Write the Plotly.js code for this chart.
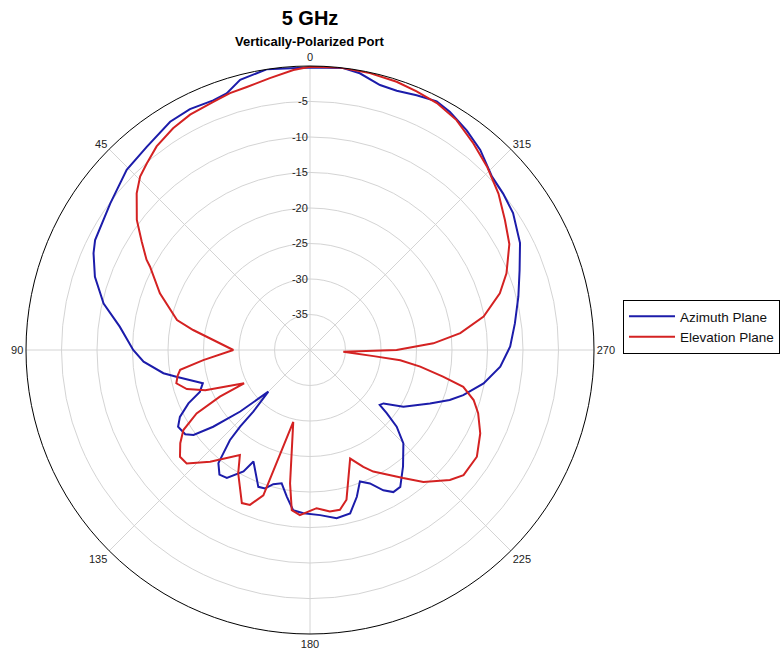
<!DOCTYPE html>
<html>
<head>
<meta charset="utf-8">
<script src="https://cdn.plot.ly/plotly-3.0.1.min.js"></script>
<style>html,body{margin:0;padding:0;background:#fff;}#chart{width:780px;height:652px;}</style>
</head>
<body>
<div id="chart"></div>
<script>
// Azimuth plane (blue): angle in degrees (CCW from top), gain in dB
const azimuthTheta = [0, 8.8, 14.5, 18, 21.2, 26.5, 31.5, 38.8, 45.5, 53.7, 62.9, 65.9, 71.2, 77.3, 83, 90, 94, 99, 101.3, 107.2, 110.8, 113.7, 117.2, 120.2, 124, 126.1, 128.4, 131.4, 135, 137.4, 137.6, 138.4, 140, 141, 144, 147, 151.3, 153.1, 159.3, 162, 164.7, 168, 171, 174, 177.7, 183.5, 189, 193.8, 197.7, 200.8, 204.2, 207.6, 210.4, 213.4, 218.6, 225, 228.5, 230.5, 231.8, 234, 238.7, 246, 250.3, 253.6, 259.1, 265, 271, 277.4, 284.4, 290.9, 297, 304, 309, 313.6, 319.6, 324.5, 329.6, 333, 337.3, 341.5, 345.2, 349.8, 353.3, 360];
const azimuthGain = [-0.2, 0, -0.7, -2.0, -2.3, -2.1, -2.3, -3.3, -3.8, -5.1, -6.0, -6.6, -8.0, -10.2, -13.0, -15.1, -16.5, -19.1, -20.8, -24.2, -23.4, -21.3, -19.4, -18.5, -18.8, -19.7, -22.6, -26.9, -31.7, -28.2, -25.4, -23.0, -21.0, -19.5, -18.3, -18.5, -20.5, -22.4, -19.4, -19.5, -20.4, -20.8, -19.1, -17.3, -17.0, -16.7, -16.0, -16.3, -18.3, -20.2, -19.4, -17.7, -16.8, -16.9, -19.0, -21.4, -23.7, -26.0, -27.5, -27.2, -24.6, -21.5, -19.1, -17.5, -15.1, -13.1, -11.8, -10.9, -9.7, -8.4, -6.8, -5.5, -5.0, -4.6, -3.0, -2.0, -1.1, -0.7, -1.1, -1.5, -1.4, -0.4, 0, -0.2];

// Elevation plane (red)
const elevationTheta = [0, 3.4, 8.4, 13.5, 17.3, 21.3, 27, 31.7, 37, 41.2, 44.4, 47.9, 53.1, 57.2, 61.1, 62.5, 69.3, 77.3, 80.3, 84.1, 90, 95.4, 98.7, 101, 104, 107.6, 111, 116.8, 117.4, 119.2, 122.3, 125.7, 129.4, 132.6, 138.2, 146.3, 149.8, 156, 158.8, 162.2, 166.9, 171.5, 173.5, 176.5, 182.4, 187, 190.6, 193.7, 200.3, 204.5, 207.5, 216, 220.7, 227.1, 230.8, 237.4, 243.9, 249.4, 253, 256.5, 258.7, 261.4, 263.5, 264.5, 267, 270, 273.1, 276.4, 280.9, 286.6, 291.3, 298, 303.7, 309.7, 316, 321.7, 327.5, 332.8, 337.6, 342.1, 347.8, 353.9, 360];
const elevationGain = [-0.1, -0.5, -1.3, -1.9, -2.1, -2.5, -2.8, -3.3, -4.1, -5.1, -5.8, -7.1, -9.5, -11.8, -13.7, -14.6, -17.4, -20.8, -23.3, -26.3, -29.2, -24.9, -21.5, -21.0, -20.6, -21.8, -24.2, -29.6, -25.7, -21.7, -18.9, -17.5, -16.3, -16.4, -18.9, -22.2, -19.9, -16.4, -16.6, -18.5, -29.6, -21.0, -17.3, -16.7, -17.7, -17.1, -17.1, -18.3, -23.7, -21.9, -20.7, -17.7, -15.5, -13.1, -12.1, -12.1, -13.3, -14.7, -15.9, -17.8, -20.9, -24.3, -27.2, -31.0, -35.3, -27.8, -22.6, -18.7, -15.1, -12.1, -10.3, -8.2, -7.0, -5.5, -4.1, -2.9, -1.6, -0.9, -0.6, -0.3, -0.1, 0.0, -0.1];

const angleTicks = [0, 45, 90, 135, 180, 225, 270, 315];
const angleLabels = ['0', '45', '90', '135', '180', '225', '270', '315'];
const radialTicks = [-35, -30, -25, -20, -15, -10, -5];
const radialLabels = ['-35', '-30', '-25', '-20', '-15', '-10', '-5'];
const seriesNames = ['Azimuth Plane', 'Elevation Plane'];

const font = 'Arial, "Liberation Sans", sans-serif';

const traces = [
  {type: 'scatterpolar', mode: 'lines', name: seriesNames[0], theta: azimuthTheta, r: azimuthGain,
   line: {color: '#1c1caa', width: 2}},
  {type: 'scatterpolar', mode: 'lines', name: seriesNames[1], theta: elevationTheta, r: elevationGain,
   line: {color: '#d42222', width: 2}}
];

const layout = {
  width: 780, height: 652,
  margin: {l: 0, r: 0, t: 0, b: 0},
  paper_bgcolor: '#fff',
  font: {family: font, size: 11, color: '#333'},
  title: {text: '<b>5 GHz</b>', font: {family: font, size: 20, color: '#000'},
          x: 310/780, xanchor: 'center', xref: 'paper', y: 1 - 18/652, yanchor: 'middle', yref: 'container'},
  annotations: [{text: '<b>Vertically-Polarized Port</b>', xref: 'paper', yref: 'paper',
                 x: 310/780, y: 1 - 42/652, xanchor: 'center', yanchor: 'middle', showarrow: false,
                 font: {family: font, size: 13, color: '#000'}}],
  showlegend: true,
  legend: {x: 623/780, y: 1 - 300/652, xanchor: 'left', yanchor: 'top', bordercolor: '#000', borderwidth: 1,
           bgcolor: '#fff', itemwidth: 46, tracegroupgap: 0, font: {family: font, size: 13.5, color: '#111'}},
  polar: {
    domain: {x: [26/780, 594/780], y: [18/652, 586/652]},
    bgcolor: '#fff',
    angularaxis: {rotation: 90, direction: 'counterclockwise', tickmode: 'array', tickvals: angleTicks, ticktext: angleLabels,
                  color: '#222', showline: true, linecolor: '#000', linewidth: 1, gridcolor: '#d4d4d4', gridwidth: 1, ticks: '',
                  tickfont: {family: font, size: 11, color: '#222'}},
    radialaxis: {range: [-40, 0], tickmode: 'array', tickvals: radialTicks, ticktext: radialLabels, angle: 90, tickangle: 90,
                 color: '#222', side: 'counterclockwise', showline: false, gridcolor: '#d4d4d4', gridwidth: 1, ticks: '',
                 tickfont: {family: font, size: 11, color: '#222'}}
  }
};

Plotly.newPlot('chart', traces, layout, {displayModeBar: false, staticPlot: true});
</script>
</body>
</html>
